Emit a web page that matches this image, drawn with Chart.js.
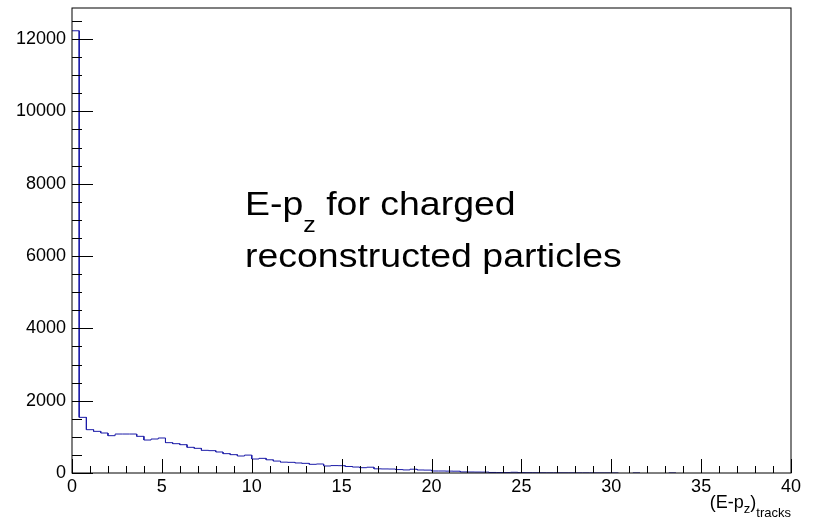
<!DOCTYPE html>
<html lang="en">
<head>
  <meta charset="UTF-8">
  <title>E-pz for charged reconstructed particles</title>
  <script src="https://cdn.jsdelivr.net/npm/chart.js"></script>
  <style>
    html, body {
      margin: 0;
      padding: 0;
      background: #fff;
    }
    #hist {
      display: block;
    }
  </style>
</head>
<body>
  <canvas id="hist" width="815" height="525"></canvas>

  <script>
    // histogram: 100 bins of width 0.4 from 0 to 40
    const xMin = 0;
    const xMax = 40;
    const binWidth = 0.4;
    const yMax = 12860;

    const counts = [
      12230, 1539, 1198, 1152, 1106, 1032, 1078, 1078, 1078, 1014,
      912, 940, 968, 839, 811, 783, 710, 682, 627, 618,
      581, 535, 507, 470, 495, 387, 405, 365, 330, 300,
      295, 277, 267, 240, 249, 194, 205, 203, 180, 165,
      147, 160, 115, 112, 110, 95, 85, 105, 83, 80,
      55, 55, 52, 50, 30, 28, 26, 25, 15, 12,
      12, 20, 10, 8, 7, 6, 5, 5, 4, 4,
      3, 3, 3, 2, 2, 2, 0, 0, 2, 0,
      0, 0, 0, 2, 0, 0, 0, 0, 0, 0,
      0, 0, 0, 0, 0, 0, 0, 0, 0, 0
    ];

    const xTickValues = [0, 5, 10, 15, 20, 25, 30, 35, 40];
    const xTickLabels = ["0", "5", "10", "15", "20", "25", "30", "35", "40"];
    const yTickValues = [0, 2000, 4000, 6000, 8000, 10000, 12000];
    const yTickLabels = ["0", "2000", "4000", "6000", "8000", "10000", "12000"];

    const titleLine1 = ["E-p", "z", " for charged"];
    const titleLine2 = "reconstructed particles";
    const xTitle = ["(E-p", "z", ")", "tracks"];

    // outline of the histogram, one flat step per bin, empty bins left out
    const outline = [];
    counts.forEach((c, i) => {
      const lo = xMin + i * binWidth;
      if (c === 0) {
        outline.push({ x: lo, y: null });
        return;
      }
      outline.push({ x: lo, y: c }, { x: lo + binWidth, y: c });
    });

    const FONT = "'Liberation Sans', Arial, sans-serif";

    function noPad(s) {
      s.paddingTop = 0;
      s.paddingBottom = 0;
      s.paddingLeft = 0;
      s.paddingRight = 0;
    }

    const rootFrame = {
      id: "rootFrame",
      afterDraw(chart) {
        const ctx = chart.ctx;
        const area = chart.chartArea;
        const xs = chart.scales.x;
        const ys = chart.scales.y;

        ctx.save();
        // frame
        ctx.strokeStyle = "#000";
        ctx.lineWidth = 1;
        ctx.strokeRect(area.left, area.top, area.right - area.left, area.bottom - area.top);

        // inward ticks
        ctx.beginPath();
        for (let v = 0; v <= yMax; v += 500) {
          const y = Math.round(ys.getPixelForValue(v)) + 0.5;
          const len = v % 2000 === 0 ? 21 : 10;
          ctx.moveTo(area.left, y);
          ctx.lineTo(area.left + len, y);
        }
        for (let v = xMin; v <= xMax; v += 1) {
          const x = Math.round(xs.getPixelForValue(v)) + 0.5;
          const len = v % 5 === 0 ? 14 : 7;
          ctx.moveTo(x, area.bottom);
          ctx.lineTo(x, area.bottom - len);
        }
        ctx.stroke();

        ctx.fillStyle = "#000";
        ctx.textAlign = "left";
        ctx.textBaseline = "alphabetic";

        // x axis title with subscripts, right aligned to the frame
        const parts = [
          { t: xTitle[0], size: 18, dy: 0 },
          { t: xTitle[1], size: 13, dy: 5 },
          { t: xTitle[2], size: 18, dy: 0 },
          { t: xTitle[3], size: 13, dy: 9 }
        ];
        let total = 0;
        parts.forEach(p => {
          ctx.font = p.size + "px " + FONT;
          p.w = ctx.measureText(p.t).width;
          total += p.w;
        });
        let cx = area.right - total;
        parts.forEach(p => {
          ctx.font = p.size + "px " + FONT;
          ctx.fillText(p.t, cx, 508 + p.dy);
          cx += p.w;
        });

        // text inside the pad, a little wider than the plain font
        ctx.translate(245, 0);
        ctx.scale(1.135, 1);
        let tx = 0;
        ctx.font = "33px " + FONT;
        ctx.fillText(titleLine1[0], tx, 215);
        tx += ctx.measureText(titleLine1[0]).width;
        ctx.font = "22px " + FONT;
        ctx.fillText(titleLine1[1], tx, 232);
        tx += ctx.measureText(titleLine1[1]).width;
        ctx.font = "33px " + FONT;
        ctx.fillText(titleLine1[2], tx, 215);
        ctx.fillText(titleLine2, 0, 267);
        ctx.restore();
      }
    };

    new Chart(document.getElementById("hist"), {
      type: "line",
      data: {
        datasets: [
          {
            data: outline,
            borderColor: "#1c1ca8",
            borderWidth: 1,
            pointRadius: 0,
            fill: false,
            tension: 0,
            spanGaps: false
          }
        ]
      },
      options: {
        responsive: false,
        maintainAspectRatio: false,
        animation: false,
        events: [],
        layout: {
          autoPadding: false,
          padding: { top: 8, right: 24, left: 0, bottom: 0 }
        },
        plugins: {
          legend: { display: false },
          tooltip: { enabled: false }
        },
        scales: {
          x: {
            type: "linear",
            min: xMin,
            max: xMax,
            afterBuildTicks: s => { s.ticks = xTickValues.map(v => ({ value: v })); },
            afterFit: s => { s.height = 52; noPad(s); },
            grid: { display: false, drawTicks: false },
            border: { display: false },
            ticks: {
              autoSkip: false,
              maxRotation: 0,
              padding: 3,
              color: "#000",
              font: { family: FONT, size: 18 },
              callback: (v, i) => xTickLabels[i]
            }
          },
          y: {
            min: 0,
            max: yMax,
            afterBuildTicks: s => { s.ticks = yTickValues.map(v => ({ value: v })); },
            afterFit: s => { s.width = 72; noPad(s); },
            grid: { display: false, drawTicks: false },
            border: { display: false },
            ticks: {
              autoSkip: false,
              padding: 6,
              color: "#000",
              font: { family: FONT, size: 18 },
              callback: (v, i) => yTickLabels[i]
            }
          }
        }
      },
      plugins: [rootFrame]
    });
  </script>
</body>
</html>
